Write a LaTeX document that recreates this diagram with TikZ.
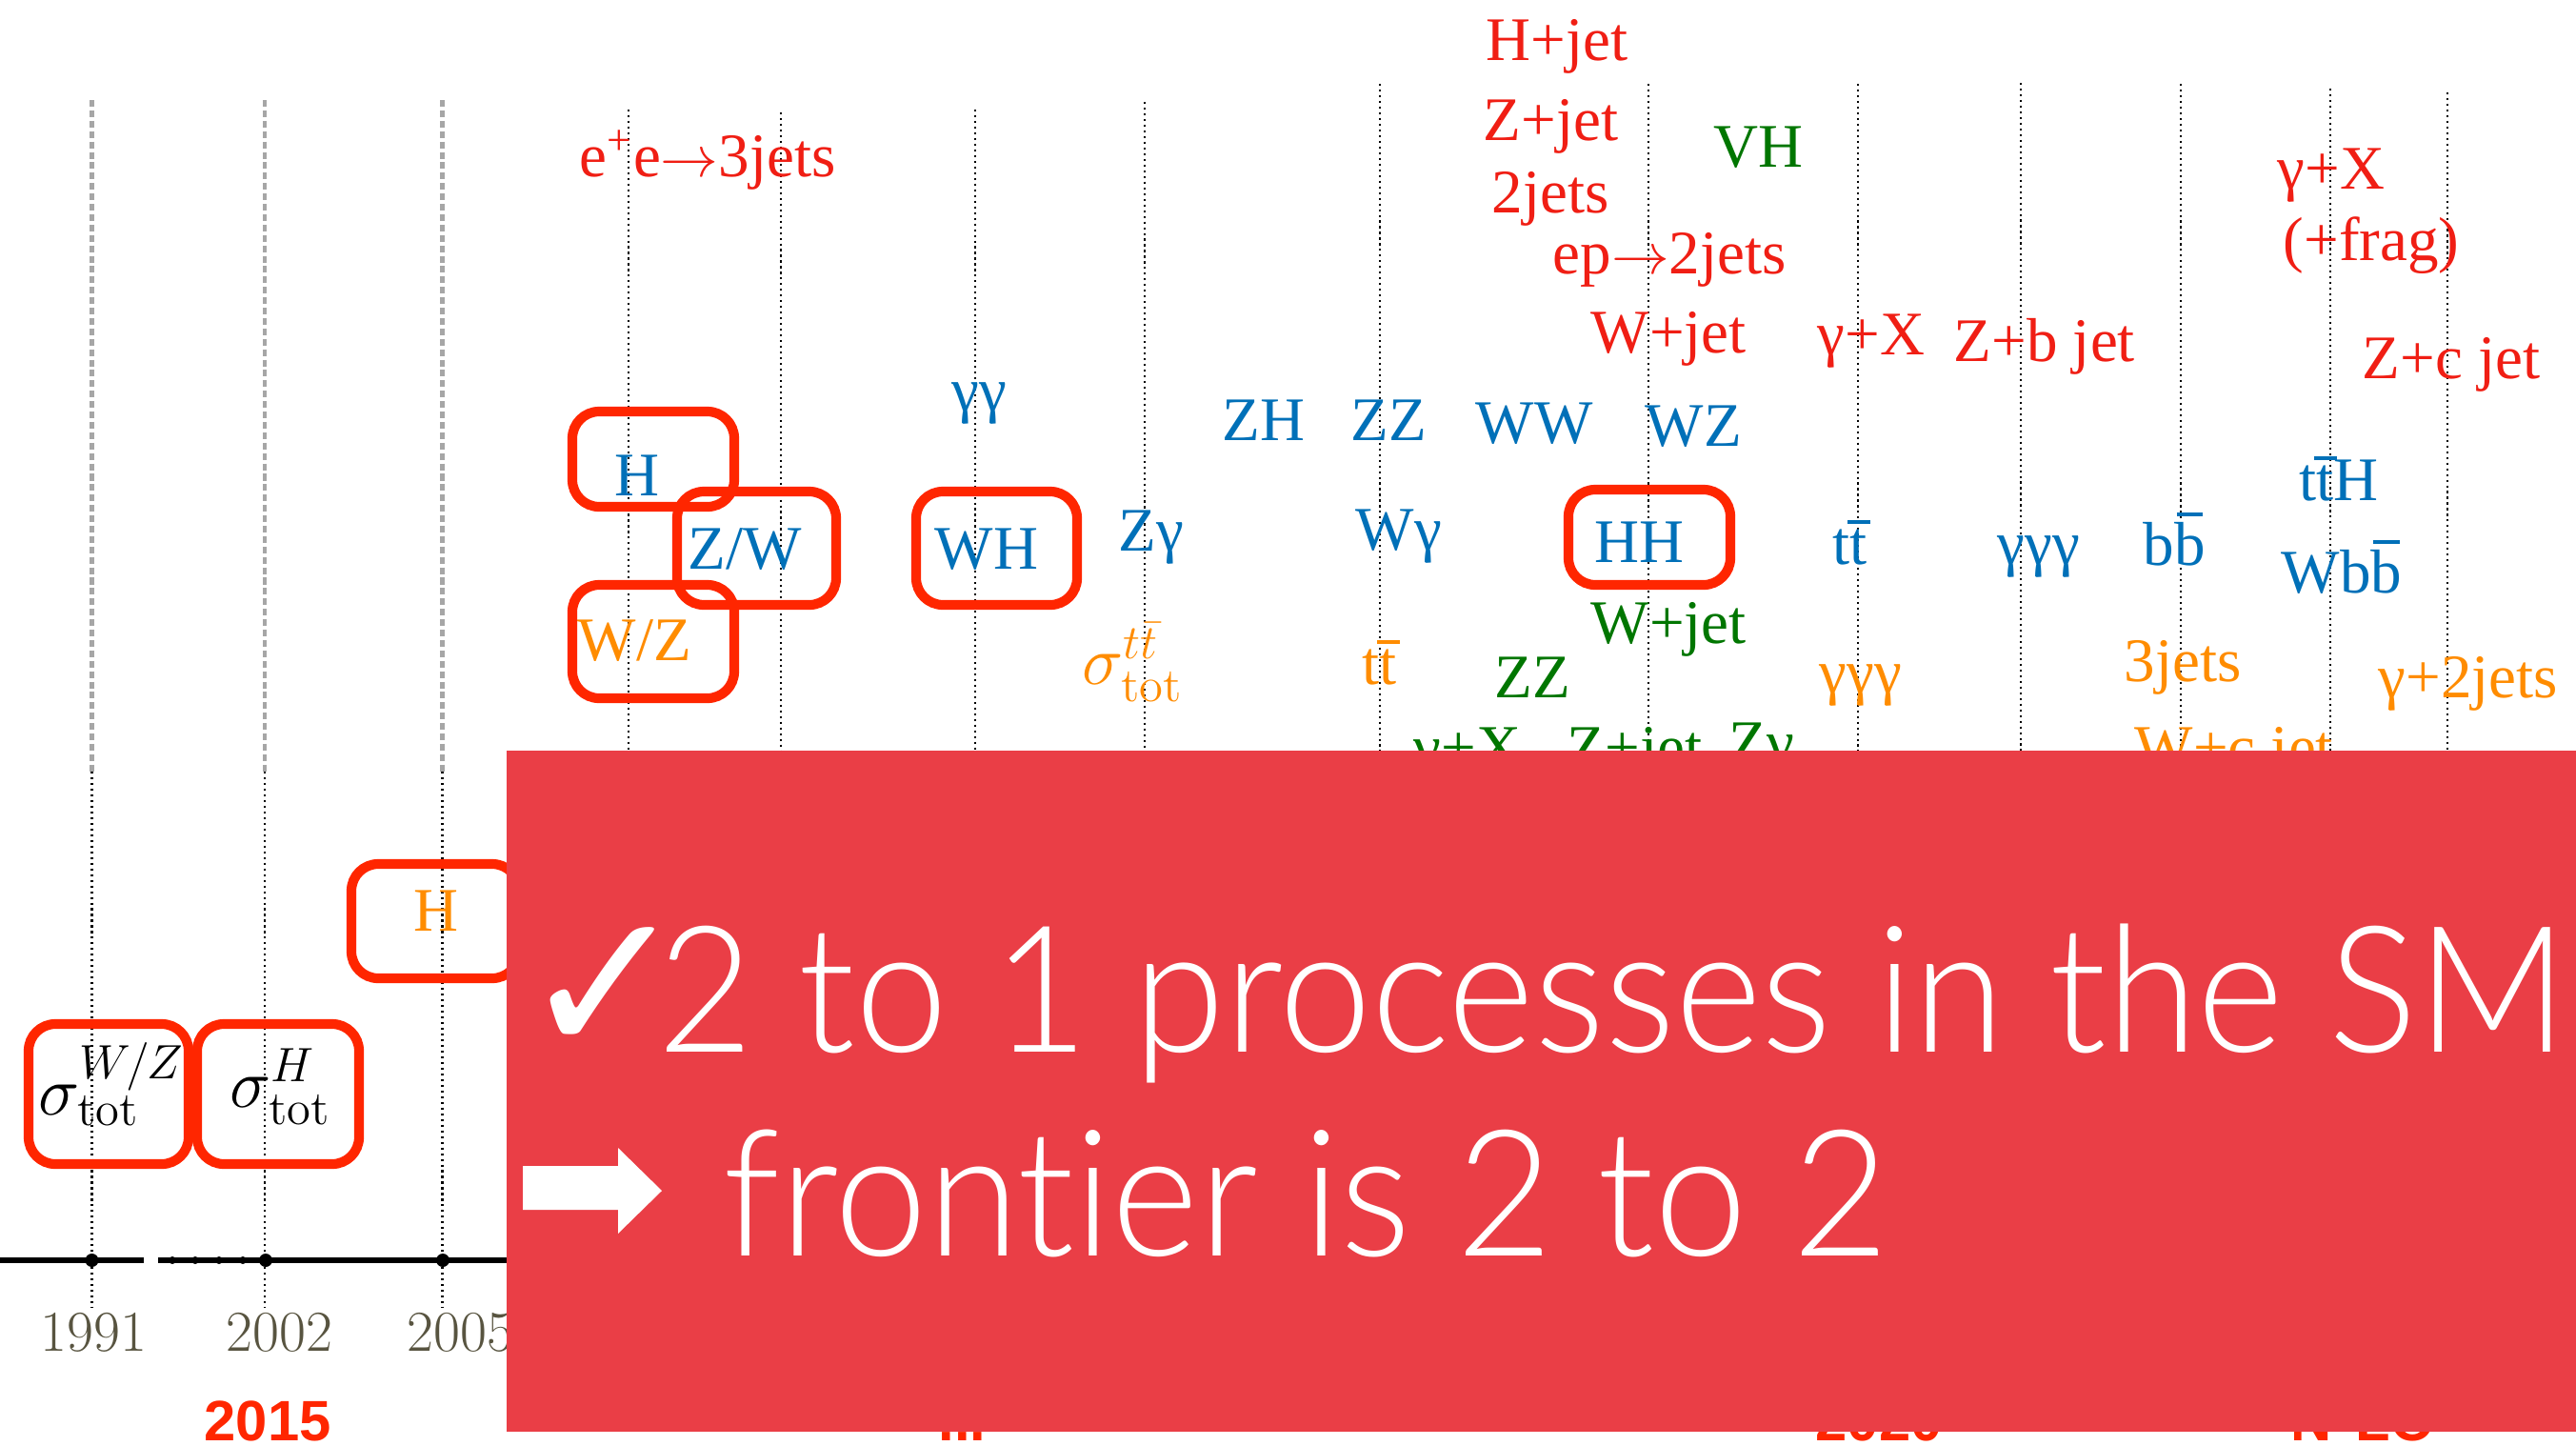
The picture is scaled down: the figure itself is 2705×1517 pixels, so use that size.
\documentclass[tikz,border=0pt]{standalone}
\usepackage[no-math]{fontspec}
\setmainfont{Liberation Serif}
\newfontfamily\boxfont{Lato Light}[Ligatures={NoCommon,NoRare,NoDiscretionary}]
\newfontfamily\symfont{DejaVu Sans}
\newfontfamily\boldsans{Liberation Sans}
\definecolor{labred}{RGB}{240,30,20}
\definecolor{boxred}{RGB}{255,38,0}
\definecolor{labblue}{RGB}{0,112,184}
\definecolor{labgreen}{RGB}{0,118,0}
\definecolor{laborange}{RGB}{255,140,0}
\definecolor{overlayred}{RGB}{234,62,70}
\definecolor{yeargray}{RGB}{88,84,64}
\newcommand\tb{\ooalign{t\cr\hidewidth\vrule height 0.70em depth -0.64em width 0.36em\hidewidth\cr}}
\newcommand\bb{\ooalign{b\cr\hidewidth\vrule height 0.84em depth -0.78em width 0.42em\hidewidth\cr}}
\tikzset{
  lbl/.style={anchor=base west, inner sep=0pt, font=\fontsize{18.5}{20}\selectfont},
  rl/.style={lbl, text=labred},
  bl/.style={lbl, text=labblue},
  gl/.style={lbl, text=labgreen},
  ol/.style={lbl, text=laborange},
  sig/.style={anchor=base west, inner sep=0pt, font=\fontsize{20.5}{22}\selectfont},
  yr/.style={anchor=base west, inner sep=0pt, text=yeargray, font=\fontsize{16}{18}\selectfont},
  bot/.style={anchor=base west, inner sep=0pt, text=boxred, font=\boldsans\bfseries\fontsize{17}{20}\selectfont},
  rbox/.style={draw=boxred, line width=2.9pt, rounded corners=8pt},
  vdot/.style={black, line width=0.6pt, dash pattern=on 0.6pt off 1.1pt},
  vgray/.style={black!35, line width=1.2pt, dash pattern=on 2pt off 1.1pt},
  axis/.style={black, line width=1.5pt},
  big/.style={font=\boxfont\fontsize{52.6}{60}\selectfont, text=white, anchor=base west, inner sep=0pt}
}
\begin{document}
\begin{tikzpicture}[x=0.01cm,y=-0.01cm]
\useasboundingbox (0,0) rectangle (2705,1517);
\fill[white] (0,0) rectangle (2705,1517);
% vertical grid lines
\foreach \x in {96.5,278,464.5}{
  \draw[vgray] (\x,105) -- (\x,810);
  \draw[vdot] (\x,810) -- (\x,1372);
}
\foreach \x/\y in {660/115,820/118,1024/115,1202/107,1449/88,1731/88,1951/88,2122/87,2290/88,2447/93,2570/97}{
  \draw[vdot] (\x,\y) -- (\x,1372);
}
% axis
\draw[axis] (0,1323) -- (151,1323);
\draw[axis] (166,1323) -- (2705,1323);
\foreach \x in {181,205,230,255}{\fill (\x,1323) circle (4);}
\foreach \x in {96.5,279,465}{\fill (\x,1323) circle (7);}
% years
\node[yr] (y1991) at (42,1418) {$\mathrm{1991}$};
\node[yr] (y2002) at (237,1418) {$\mathrm{2002}$};
\node[yr] (y2005) at (427,1418) {$\mathrm{2005}$};
\node[bot] (b2015) at (214,1512) {2015};
\node[bot] (bdots) at (985,1512) {...};
\node[bot] (b2020) at (1906,1512) {2020};
\node[bot] (bnlo) at (2405,1512) {N\textsuperscript{3}LO};
% red labels
\node[rl] (ee3j) at (608,185) {e\textsuperscript{+}e$\rightarrow$3jets};
\node[rl] (hjet) at (1560,63) {H+jet};
\node[rl] (zjet) at (1557,147) {Z+jet};
\node[rl] (twoj) at (1566,223) {2jets};
\node[rl] (ep2j) at (1630,287) {ep$\rightarrow$2jets};
\node[rl] (wjetr) at (1670,370) {W+jet};
\node[rl] (gxr) at (1908,372) {γ+X};
\node[rl] (zbj) at (2051,379) {Z+b jet};
\node[rl] (zcj) at (2480,397) {Z+c jet};
\node[rl] (gxu) at (2391,198) {γ+X};
\node[rl] (frag) at (2397,273) {(+frag)};
% green labels
\node[gl] (vh) at (1799,175) {VH};
\node[gl] (wjetg) at (1670,675) {W+jet};
\node[gl] (zzg) at (1569,732) {ZZ};
\node[gl] (gxg) at (1484,806) {γ+X};
\node[gl] (zjetg) at (1645,806) {Z+jet};
\node[gl] (zgg) at (1815,801) {Zγ};
% orange labels
\node[ol] (wzo) at (606,693) {W/Z};
\node[sig, text=laborange] (sigtt) at (1136,718) {$\sigma^{t\bar{t}}_{\mathrm{tot}}$};
\node[ol] (tto) at (1430,718) {t\tb};
\node[ol] (gggo) at (1910,727) {γγγ};
\node[ol] (threej) at (2230,715) {3jets};
\node[ol] (g2j) at (2497,732) {γ+2jets};
\node[ol] (wcj) at (2241,806) {W+c jet};
\node[ol] (ho) at (434,977) {H};
% blue labels
\node[bl] (gg) at (999,431) {γγ};
\node[bl] (hb) at (645,520) {H};
\node[bl] (zw) at (722,597) {Z/W};
\node[bl] (wh) at (981,597) {WH};
\node[bl] (zg) at (1174,578) {Zγ};
\node[bl] (zh) at (1283,462) {ZH};
\node[bl] (zzb) at (1418,462) {ZZ};
\node[bl] (ww) at (1549,465) {WW};
\node[bl] (wz) at (1727,468) {WZ};
\node[bl] (wg) at (1423,577) {Wγ};
\node[bl] (hh) at (1674,590) {HH};
\node[bl] (ttb) at (1924,592) {t\tb};
\node[bl] (gggb) at (2097,592) {γγγ};
\node[bl] (bbb) at (2250,593) {b\bb};
\node[bl] (tth) at (2414,525) {t\tb H};
\node[bl] (wbb) at (2395,622) {Wb\bb};
% black sigma labels
\node[sig] (sigwz) at (40,1170) {$\sigma^{W/Z}_{\mathrm{tot}}$};
\node[sig] (sigh) at (241,1162) {$\sigma^{H}_{\mathrm{tot}}$};
% red rounded boxes
\draw[rbox] (30,1075) rectangle (198,1222);
\draw[rbox] (207,1075) rectangle (377,1222);
\draw[rbox] (369,907) rectangle (545,1027);
\draw[rbox] (601,432) rectangle (771,532);
\draw[rbox] (711,516) rectangle (878,635);
\draw[rbox] (601,614) rectangle (771,733);
\draw[rbox] (962,516) rectangle (1131,635);
\draw[rbox] (1647,514) rectangle (1817,614);
% overlay
\fill[overlayred] (532,788) rectangle (2705,1503);
\node[anchor=base west, inner sep=0pt, text=white, font=\symfont\fontsize{60}{62}\selectfont] (chk) at (546,1106) {✓};
\node[big] (line1) at (690,1104) {\scalebox{0.94}[1]{2 to 1 processes in the SM}};
\fill[white] (549,1224) -- (649,1224) -- (649,1205) -- (695,1250) -- (649,1295) -- (649,1270) -- (549,1270) -- cycle;
\node[big] (line2) at (759,1318) {\scalebox{0.945}[1]{frontier is 2 to 2}};
\end{tikzpicture}
\end{document}
